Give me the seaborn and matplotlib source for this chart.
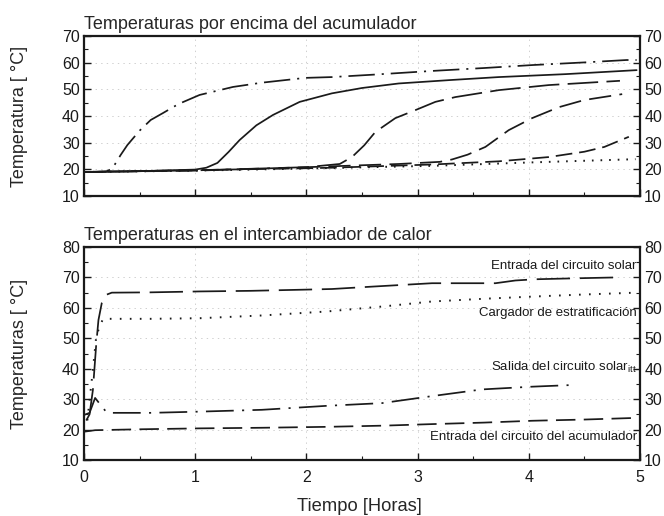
import matplotlib
matplotlib.use("Agg")
import matplotlib.pyplot as plt
from matplotlib.ticker import MultipleLocator
import seaborn as sns

# --- upper panel: temperatures above the tank ---
t_dd = [0, 0.1, 0.2, 0.25, 0.28, 0.33, 0.39, 0.5, 0.6, 0.71, 0.85, 1.04, 1.2, 1.34, 1.6, 1.99,
        2.23, 2.6, 3.13, 3.6, 4.03, 4.5, 4.88, 4.97]
v_dd = [19, 19, 19.2, 20.2, 22, 25.4, 29.1, 34.5, 38.5, 41.1, 44.5, 47.9, 49.5, 50.9, 52.5, 54.3,
        54.6, 55.5, 56.9, 58.0, 59.1, 60.1, 61.0, 61.0]

t_solid = [0, 0.5, 1.0, 1.1, 1.2, 1.3, 1.4, 1.55, 1.7, 1.94, 2.23, 2.5, 2.83, 3.3, 3.73, 4.33, 4.97]
v_solid = [19, 19.3, 19.9, 20.6, 22.4, 26.5, 31, 36.5, 40.4, 45.3, 48.5, 50.5, 52.2, 53.5, 54.6, 55.7, 57.2]

t_d1 = [0, 1.0, 1.5, 2.0, 2.3, 2.41, 2.52, 2.62, 2.8, 2.98, 3.16, 3.34, 3.73, 4.18, 4.82]
v_d1 = [19, 19.6, 20.2, 20.8, 22, 24.6, 29, 34, 39.2, 42.2, 45.3, 47.1, 49.7, 51.6, 53.2]

t_d2 = [0, 1.0, 2.0, 2.83, 3.2, 3.31, 3.45, 3.61, 3.82, 4.03, 4.27, 4.5, 4.84]
v_d2 = [19, 19.5, 20.8, 22.0, 22.8, 23.7, 25.5, 28.4, 34.7, 39.2, 43.3, 46, 48.2]

t_d3 = [0, 1.0, 2.0, 2.23, 3.13, 3.73, 4.18, 4.5, 4.68, 4.9]
v_d3 = [19, 19.7, 20.4, 20.6, 21.8, 23.0, 24.6, 26.6, 28.4, 32.2]

t_dot = [0, 1, 2, 2.23, 3.13, 4.03, 4.96]
v_dot = [19, 19.5, 20.3, 20.5, 21.3, 22.6, 23.8]

# --- lower panel: heat exchanger temperatures ---
t_in_sol = [0.02, 0.05, 0.08, 0.11, 0.13, 0.16, 0.2, 0.25, 0.6, 1.04, 1.5, 2.0, 2.23, 2.6, 3.13,
            3.7, 3.88, 4.06, 4.4, 4.78]
v_in_sol = [23, 25, 33, 48, 56, 61.6, 64.3, 65, 65.1, 65.4, 65.6, 66, 66.2, 67, 68.1,
            68.1, 69.0, 69.4, 69.7, 70]

t_strat = [0.03, 0.08, 0.11, 0.14, 0.17, 0.2, 0.6, 1.04, 1.6, 2.18, 2.7, 3.13, 3.6, 4.03, 4.5, 4.97]
v_strat = [23, 39.6, 50.6, 53.8, 56.3, 56.4, 56.4, 56.6, 57.5, 58.8, 60.5, 62.1, 63, 63.7, 64.4, 65]

t_out_sol = [0.0, 0.05, 0.1, 0.13, 0.2, 0.24, 0.6, 1.04, 1.6, 2.18, 2.68, 3.13, 3.58, 4.03, 4.36]
v_out_sol = [24.8, 25.5, 30.4, 29, 25.8, 25.5, 25.5, 25.9, 26.5, 27.8, 28.7, 31.0, 33.2, 34.1, 34.6]

t_in_acc = [0.0, 0.1, 0.5, 1.04, 1.6, 2.18, 2.7, 3.13, 3.6, 4.03, 4.5, 4.93]
v_in_acc = [19.3, 19.8, 20.1, 20.4, 20.6, 20.9, 21.3, 21.8, 22.3, 22.9, 23.3, 23.8]

labels = ["Entrada del circuito solar", "Cargador de estratificación",
          "Salida del circuito solar$_{\\rm itt}$", "Entrada del circuito del acumulador"]
label_y = [73.8, 58.4, 40.3, 17.6]

sns.set_style("ticks")
plt.rcParams["font.family"] = ["Liberation Sans", "DejaVu Sans"]
plt.rcParams["mathtext.fontset"] = "custom"
plt.rcParams["mathtext.rm"] = "Liberation Sans"
plt.rcParams["lines.scale_dashes"] = False
plt.rcParams["axes.linewidth"] = 1.6

fig = plt.figure(figsize=(6.64, 5.16), dpi=100)
ax1 = fig.add_axes([0.1265, 0.6202, 0.8373, 0.31])
ax2 = fig.add_axes([0.1265, 0.1085, 0.8373, 0.4128])

k = "#1a1a1a"
lw = 1.25
sns.lineplot(x=t_dd, y=v_dd, ax=ax1, color=k, lw=lw, linestyle=(0, (19, 5, 1.5, 5)))
sns.lineplot(x=t_solid, y=v_solid, ax=ax1, color=k, lw=lw)
sns.lineplot(x=t_d1, y=v_d1, ax=ax1, color=k, lw=lw, linestyle=(0, (22, 6)))
sns.lineplot(x=t_d2, y=v_d2, ax=ax1, color=k, lw=lw, linestyle=(0, (16, 6)))
sns.lineplot(x=t_d3, y=v_d3, ax=ax1, color=k, lw=lw, linestyle=(0, (12, 5)))
sns.lineplot(x=t_dot, y=v_dot, ax=ax1, color=k, lw=1.4, linestyle=(0, (1.2, 5)))

sns.lineplot(x=t_in_sol, y=v_in_sol, ax=ax2, color=k, lw=lw, linestyle=(0, (24, 7)))
sns.lineplot(x=t_strat, y=v_strat, ax=ax2, color=k, lw=1.4, linestyle=(0, (1.2, 6)))
sns.lineplot(x=t_out_sol, y=v_out_sol, ax=ax2, color=k, lw=lw, linestyle=(0, (20, 6, 1.5, 6)))
sns.lineplot(x=t_in_acc, y=v_in_acc, ax=ax2, color=k, lw=lw, linestyle=(0, (14, 6)))

for ly, txt in zip(label_y, labels):
    ax2.text(4.97, ly, txt, ha="right", va="center", fontsize=9.5, color=k)

for ax, lo, hi in [(ax1, 10, 70), (ax2, 10, 80)]:
    ax.set_xlim(0, 5)
    ax.set_ylim(lo, hi)
    ax.xaxis.set_major_locator(MultipleLocator(1))
    ax.xaxis.set_minor_locator(MultipleLocator(0.5))
    ax.yaxis.set_major_locator(MultipleLocator(10))
    ax.yaxis.set_minor_locator(MultipleLocator(5))
    ax.grid(True, which="major", linestyle=(0, (1, 3)), color="#c8c8c8", lw=0.6)
    ax.tick_params(which="both", direction="in", right=True, labelright=True,
                   top=False, labelsize=11.5, colors=k)
    ax.tick_params(axis="y", pad=3)
    ax.tick_params(axis="x", pad=7)
    ax.tick_params(which="major", length=5, width=1)
    ax.tick_params(which="minor", length=3, width=0.8)
    for s in ax.spines.values():
        s.set_color(k)

ax1.tick_params(labelbottom=False)
ax1.set_title("Temperaturas por encima del acumulador", loc="left", fontsize=13, pad=5)
ax2.set_title("Temperaturas en el intercambiador de calor", loc="left", fontsize=13, pad=5)
ax1.set_ylabel("Temperatura [ °C]", fontsize=13)
ax2.set_ylabel("Temperaturas [ °C]", fontsize=13)
ax2.set_xlabel("Tiempo [Horas]", fontsize=13.2)
ax1.yaxis.set_label_coords(-0.1, 0.5)
ax2.yaxis.set_label_coords(-0.1, 0.5)
ax2.xaxis.set_label_coords(0.496, -0.18)

fig.savefig("out.png", dpi=100)
